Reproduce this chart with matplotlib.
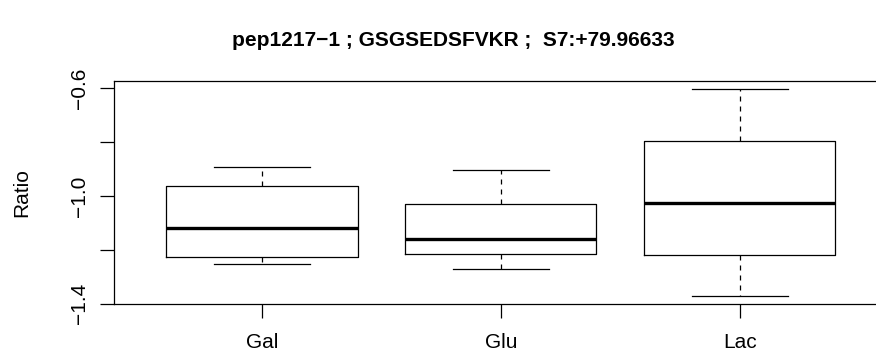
import matplotlib
matplotlib.use("Agg")
import matplotlib.pyplot as plt

# five-number summaries
groups = ["Gal", "Glu", "Lac"]
whisker_low = [-1.252, -1.270, -1.371]
q1 = [-1.228, -1.216, -1.220]
median = [-1.117, -1.160, -1.027]
q3 = [-0.963, -1.031, -0.795]
whisker_high = [-0.894, -0.903, -0.603]

title = "pep1217\u22121 ; GSGSEDSFVKR ;  S7:+79.96633"

plt.rcParams["font.family"] = ["Liberation Sans", "DejaVu Sans"]

fig = plt.figure(figsize=(8.76, 3.58), dpi=100)
ax = fig.add_axes([0.130, 0.150, 0.8836, 0.6246])

stats = []
for i, g in enumerate(groups):
    stats.append(dict(label=g, whislo=whisker_low[i], q1=q1[i], med=median[i],
                      q3=q3[i], whishi=whisker_high[i], fliers=[]))

ax.bxp(stats, positions=[1, 2, 3], widths=0.8, showfliers=False,
       boxprops=dict(color="black", linewidth=0.9),
       medianprops=dict(color="black", linewidth=2.4),
       whiskerprops=dict(color="black", linewidth=0.9, linestyle=(0, (4, 4))),
       capprops=dict(color="black", linewidth=0.9),
       capwidths=0.4)

ax.set_xlim(0.38, 3.62)
ax.set_ylim(-1.402, -0.572)

ax.set_yticks([-1.4, -1.2, -1.0, -0.8, -0.6])
ax.set_yticklabels(["\u22121.4", "", "\u22121.0", "", "\u22120.6"], rotation=90, va="center")
ax.tick_params(axis="both", length=10, width=0.9, labelsize=15, colors="black")
ax.tick_params(axis="y", pad=8)
ax.tick_params(axis="x", pad=11)
for s in ax.spines.values():
    s.set_linewidth(0.9)

ax.set_ylabel("Ratio", fontsize=15, labelpad=28)
fig.text(453 / 876, 1 - 40 / 358, title, ha="center", va="center",
         fontsize=15, fontweight="bold")

fig.savefig("out.png", dpi=100)
